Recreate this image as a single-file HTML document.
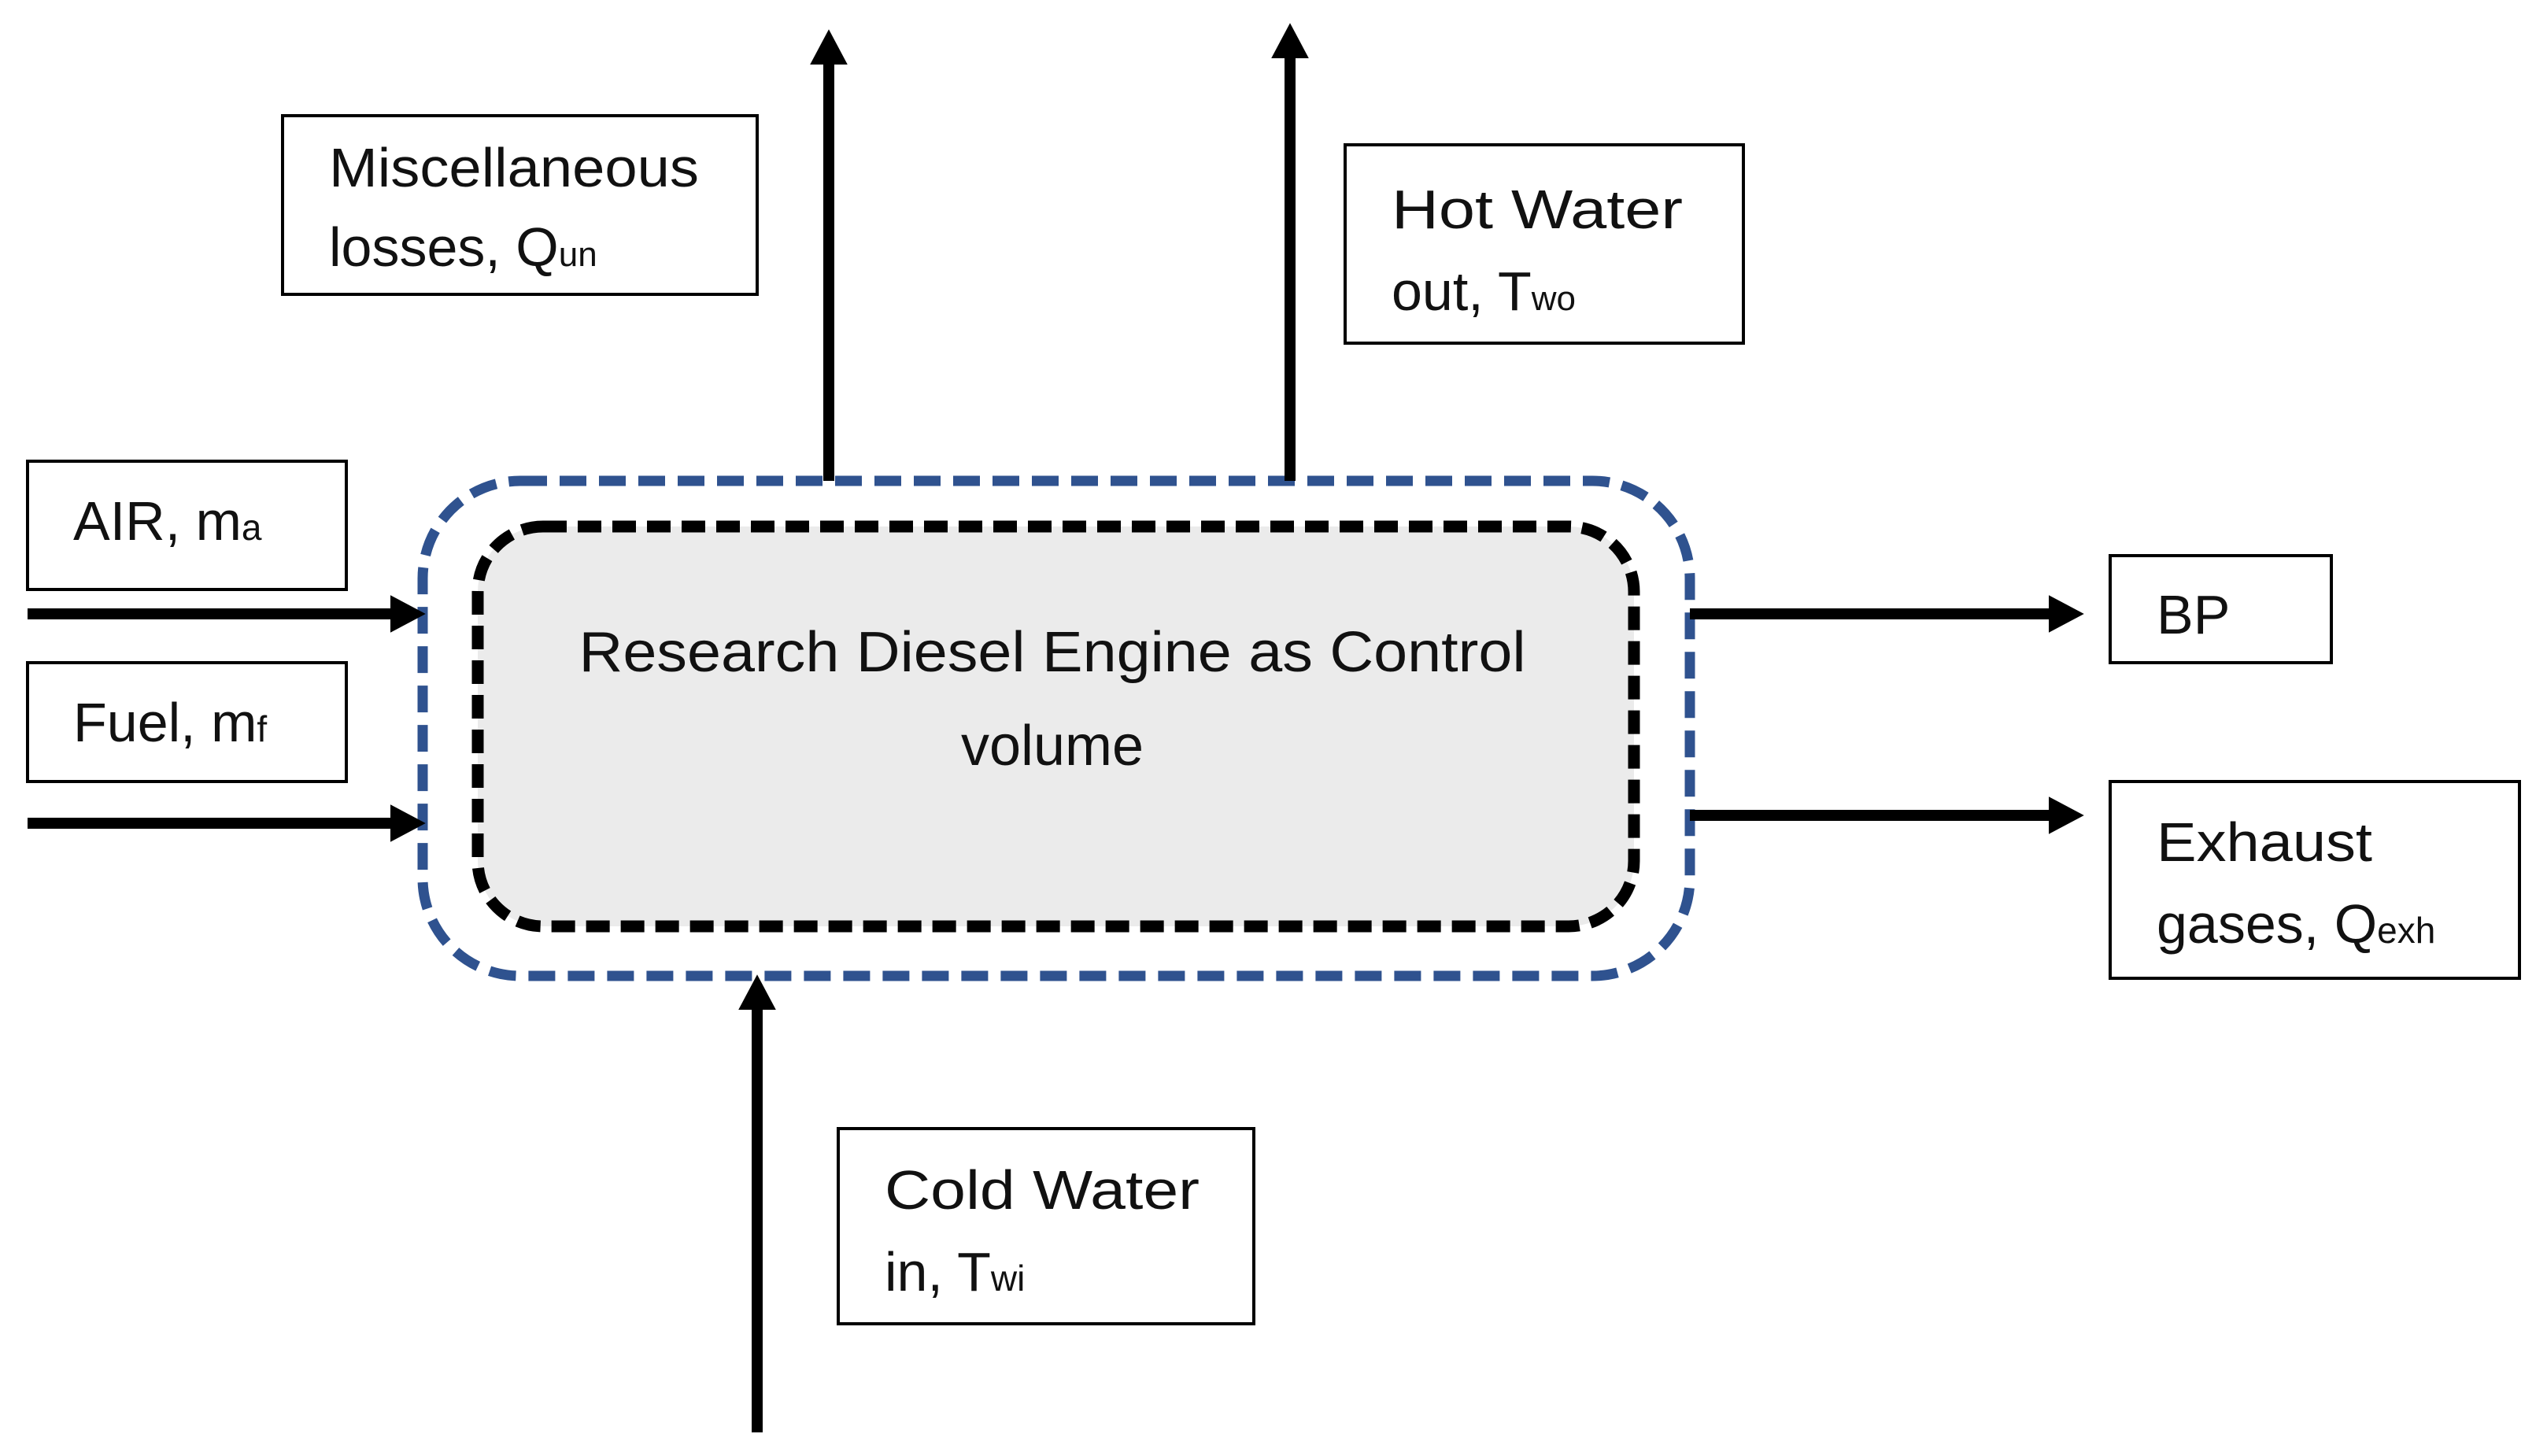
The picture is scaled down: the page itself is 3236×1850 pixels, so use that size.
<!DOCTYPE html>
<html><head><meta charset="utf-8"><style>html,body{margin:0;padding:0;background:#fff}svg{display:block}</style></head>
<body>
<svg width="3236" height="1850" viewBox="0 0 3236 1850" xmlns="http://www.w3.org/2000/svg" font-family="Liberation Sans, sans-serif">
<defs>
<marker id="ah" markerWidth="4" markerHeight="4" refX="2" refY="2" orient="auto" markerUnits="strokeWidth">
<path d="M0,0.3 L3.2,2 L0,3.7 z" fill="#000"/>
</marker>
</defs>
<g fill="#fff" stroke="#000" stroke-width="4">
<rect x="359" y="147" width="603" height="227"/>
<rect x="1709" y="184" width="506" height="252"/>
<rect x="35" y="586" width="405" height="163"/>
<rect x="35" y="842" width="405" height="151"/>
<rect x="2681" y="706" width="281" height="136"/>
<rect x="2681" y="993" width="520" height="250"/>
<rect x="1065" y="1434" width="528" height="248"/>
</g>
<rect x="537" y="611" width="1610" height="629" rx="124" fill="none" stroke="#2f528f" stroke-width="13" stroke-dasharray="34 16"/>
<rect x="607" y="669" width="1469" height="508" rx="83" fill="#ebebeb" stroke="#000" stroke-width="15" stroke-dasharray="30 14"/>
<g stroke="#000" stroke-width="14" fill="none" marker-end="url(#ah)">
<line x1="1053" y1="611" x2="1053" y2="54"/>
<line x1="1639" y1="611" x2="1639" y2="46"/>
<line x1="35" y1="780" x2="524" y2="780"/>
<line x1="35" y1="1046" x2="524" y2="1046"/>
<line x1="2147" y1="780" x2="2631" y2="780"/>
<line x1="2147" y1="1036" x2="2631" y2="1036"/>
<line x1="962" y1="1820" x2="962" y2="1255"/>
</g>
<g fill="#111" font-size="70">
<text x="418" y="237" textLength="470" lengthAdjust="spacingAndGlyphs">Miscellaneous</text>
<text x="418" y="338">losses, Q<tspan font-size="44">un</tspan></text>
<text x="1768" y="290" textLength="370" lengthAdjust="spacingAndGlyphs">Hot Water</text>
<text x="1768" y="394">out, T<tspan font-size="44">wo</tspan></text>
<text x="93" y="686">AIR, m<tspan font-size="46">a</tspan></text>
<text x="93" y="942">Fuel, m<tspan font-size="46">f</tspan></text>
<text x="2740" y="805">BP</text>
<text x="2740" y="1094" textLength="274" lengthAdjust="spacingAndGlyphs">Exhaust</text>
<text x="2740" y="1198">gases, Q<tspan font-size="46">exh</tspan></text>
<text x="1124" y="1536" textLength="400" lengthAdjust="spacingAndGlyphs">Cold Water</text>
<text x="1124" y="1640">in, T<tspan font-size="46">wi</tspan></text>
</g>
<g fill="#111" font-size="72" text-anchor="middle">
<text x="1337" y="853" textLength="1203" lengthAdjust="spacingAndGlyphs">Research Diesel Engine as Control</text>
<text x="1337" y="972">volume</text>
</g>
</svg>
</body></html>
